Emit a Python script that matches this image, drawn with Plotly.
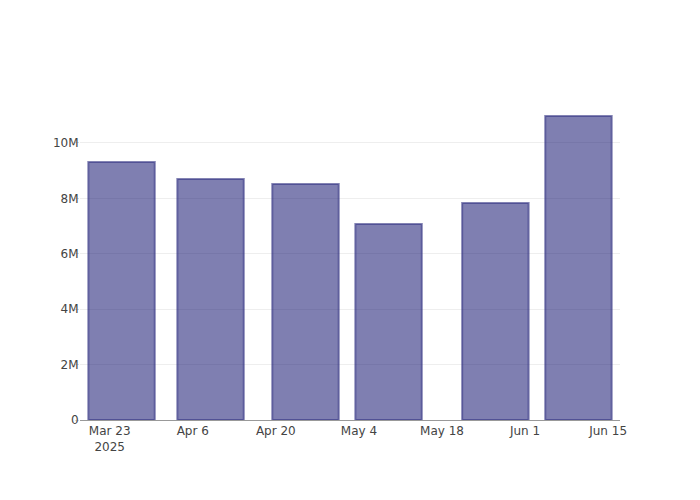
import plotly.graph_objects as go

dates = ["2025-03-25", "2025-04-09", "2025-04-25", "2025-05-09", "2025-05-27", "2025-06-10"]
values = [9.31e6, 8.70e6, 8.52e6, 7.07e6, 7.83e6, 10.97e6]

fig = go.Figure(
    go.Bar(
        x=dates,
        y=values,
        marker=dict(
            color="rgba(0,0,100,0.5)",
            line=dict(color="rgba(50,50,130,0.6)", width=2),
        ),
    )
)

fig.update_layout(
    template="plotly_white",
    width=700,
    height=500,
    font=dict(family="DejaVu Sans", size=12, color="#444"),
    showlegend=False,
    xaxis=dict(
        type="date",
        showline=True,
        linecolor="#999",
        linewidth=1,
        showgrid=False,
        dtick=14 * 86400000,
        tick0="2025-03-23",
        tickformat="%b %-d\n%Y",
    ),
    yaxis=dict(
        ticks="outside",
        ticklen=4,
        tickcolor="#ddd",
        gridcolor="#eee",
        zeroline=False,
        ticklabelstandoff=-6,
    ),
)

fig.write_html(
    "out.html",
    config={"displayModeBar": False},
    post_script="document.body.style.margin='0';document.body.style.padding='0';",
)
